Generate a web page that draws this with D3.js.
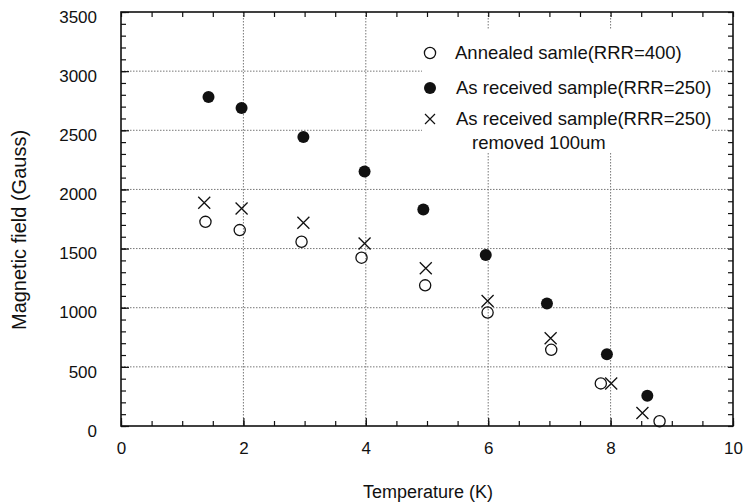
<!DOCTYPE html>
<html><head><meta charset="utf-8">
<script src="https://cdn.jsdelivr.net/npm/d3@7"></script>
<style>body{margin:0;background:#fff}svg{display:block}text{font-family:"Liberation Sans",Arial,sans-serif;fill:#111}</style>
</head><body><svg id="c" width="750" height="502"></svg>
<script>
const annealedT = [1.38, 1.94, 2.95, 3.93, 4.97, 5.99, 7.03, 7.84, 8.80];
const annealedB = [1726, 1656, 1558, 1423, 1189, 959, 644, 360, 40];
const receivedT = [1.43, 1.97, 2.98, 3.98, 4.94, 5.96, 6.96, 7.94, 8.60];
const receivedB = [2781, 2688, 2443, 2151, 1830, 1445, 1035, 607, 256];
const removedT = [1.36, 1.97, 2.98, 3.98, 4.98, 5.99, 7.02, 8.01, 8.52];
const removedB = [1887, 1839, 1718, 1543, 1333, 1057, 742, 360, 110];
const xTicks = [0, 2, 4, 6, 8, 10];
const yTicks = [0, 500, 1000, 1500, 2000, 2500, 3000, 3500];
const legendLabels = ["Annealed samle(RRR=400)", "As received sample(RRR=250)", "As received sample(RRR=250)", "removed 100um"];

const FONT = '"Liberation Sans",Arial,sans-serif';
const svg = d3.select("#c");
const L = 121, R = 733, T = 12, B = 426;
const x = d3.scaleLinear().domain([0, 10]).range([L, R]);
const y = d3.scaleLinear().domain([0, 3500]).range([B, T]);

// grid
const g = svg.append("g");
g.selectAll(".gx").data(xTicks.filter(d => d > 0 && d < 10)).enter().append("line")
  .attr("x1", d => x(d)).attr("x2", d => x(d)).attr("y1", T).attr("y2", B)
  .attr("stroke", "#777").attr("stroke-width", 1).attr("stroke-dasharray", "1.5,1.5");
g.selectAll(".gy").data(yTicks.filter(d => d > 0 && d < 3500)).enter().append("line")
  .attr("x1", L).attr("x2", R).attr("y1", d => y(d)).attr("y2", d => y(d))
  .attr("stroke", "#777").attr("stroke-width", 1).attr("stroke-dasharray", "1.5,1.5");

// axes with inward ticks
const minorX = d3.range(0, 10.01, 0.5);
const minorY = d3.range(0, 3501, 100);
function axisG(axis, tx, ty) { return svg.append("g").attr("transform", `translate(${tx},${ty})`).call(axis); }
function styleTicks(a) { a.select(".domain").remove(); a.selectAll("line").attr("stroke", "#111").attr("stroke-width", 1.2); }
styleTicks(axisG(d3.axisBottom(x).tickValues(minorX).tickSize(-5).tickFormat(""), 0, B));
styleTicks(axisG(d3.axisTop(x).tickValues(minorX).tickSize(-5).tickFormat(""), 0, T));
styleTicks(axisG(d3.axisLeft(y).tickValues(minorY).tickSize(-5).tickFormat(""), L, 0));
styleTicks(axisG(d3.axisRight(y).tickValues(minorY).tickSize(-5).tickFormat(""), R, 0));
styleTicks(axisG(d3.axisBottom(x).tickValues(xTicks).tickSize(-8).tickFormat(""), 0, B));
styleTicks(axisG(d3.axisLeft(y).tickValues(yTicks).tickSize(-8).tickFormat(""), L, 0));

svg.append("rect").attr("x", L).attr("y", T).attr("width", R - L).attr("height", B - T)
  .attr("fill", "none").attr("stroke", "#111").attr("stroke-width", 1.6);

// tick labels
const xl = axisG(d3.axisBottom(x).tickValues(xTicks).tickSize(0).tickPadding(16).tickFormat(d3.format("d")), 0, B);
xl.select(".domain").remove();
xl.selectAll("text").attr("font-size", 17).style("font-family", FONT).attr("fill", "#111");
const yl = axisG(d3.axisLeft(y).tickValues(yTicks).tickSize(0).tickPadding(24).tickFormat(d3.format("d")), L, 0);
yl.select(".domain").remove();
yl.selectAll("text").attr("font-size", 17).style("font-family", FONT).attr("fill", "#111").attr("dy", "0.6em");

// titles
svg.append("text").attr("x", 428).attr("y", 498).attr("text-anchor", "middle").attr("font-size", 18).text("Temperature (K)");
svg.append("text").attr("transform", "translate(26,230) rotate(-90)").attr("text-anchor", "middle").attr("font-size", 20).text("Magnetic  field (Gauss)");

// legend background
svg.append("rect").attr("x", 422).attr("y", 30).attr("width", 290).attr("height", 122).attr("fill", "#fff");

// markers
const ms = svg.append("g");
function circles(Tv, Bv, filled) {
  ms.append("g").selectAll("circle").data(Tv.map((t, i) => [t, Bv[i]])).enter().append("circle")
    .attr("cx", d => x(d[0])).attr("cy", d => y(d[1])).attr("r", filled ? 6 : 5.6)
    .attr("fill", filled ? "#111" : "none").attr("stroke", "#111").attr("stroke-width", filled ? 0 : 1.3);
}
function crosses(Tv, Bv) {
  const s = 6;
  ms.append("g").selectAll("path").data(Tv.map((t, i) => [t, Bv[i]])).enter().append("path")
    .attr("d", d => { const cx = x(d[0]), cy = y(d[1]); return `M${cx - s},${cy - s}L${cx + s},${cy + s}M${cx - s},${cy + s}L${cx + s},${cy - s}`; })
    .attr("stroke", "#111").attr("stroke-width", 1.3).attr("fill", "none");
}
circles(annealedT, annealedB, false);
circles(receivedT, receivedB, true);
crosses(removedT, removedB);

const lg = svg.append("g");
const lx = 430, ly = [53, 88, 119];
lg.append("circle").attr("cx", lx).attr("cy", ly[0]).attr("r", 5.6).attr("fill", "none").attr("stroke", "#111").attr("stroke-width", 1.3);
lg.append("circle").attr("cx", lx).attr("cy", ly[1]).attr("r", 6).attr("fill", "#111");
lg.append("path").attr("d", `M${lx - 5},${ly[2] - 5}L${lx + 5},${ly[2] + 5}M${lx - 5},${ly[2] + 5}L${lx + 5},${ly[2] - 5}`).attr("stroke", "#111").attr("stroke-width", 1.2);
[[455, ly[0]], [456, ly[1]], [456, ly[2]], [472, 143]].forEach((p, i) => {
  lg.append("text").attr("x", p[0]).attr("y", p[1]).attr("dy", "0.35em").attr("font-size", 18.5).text(legendLabels[i]);
});
</script></body></html>
